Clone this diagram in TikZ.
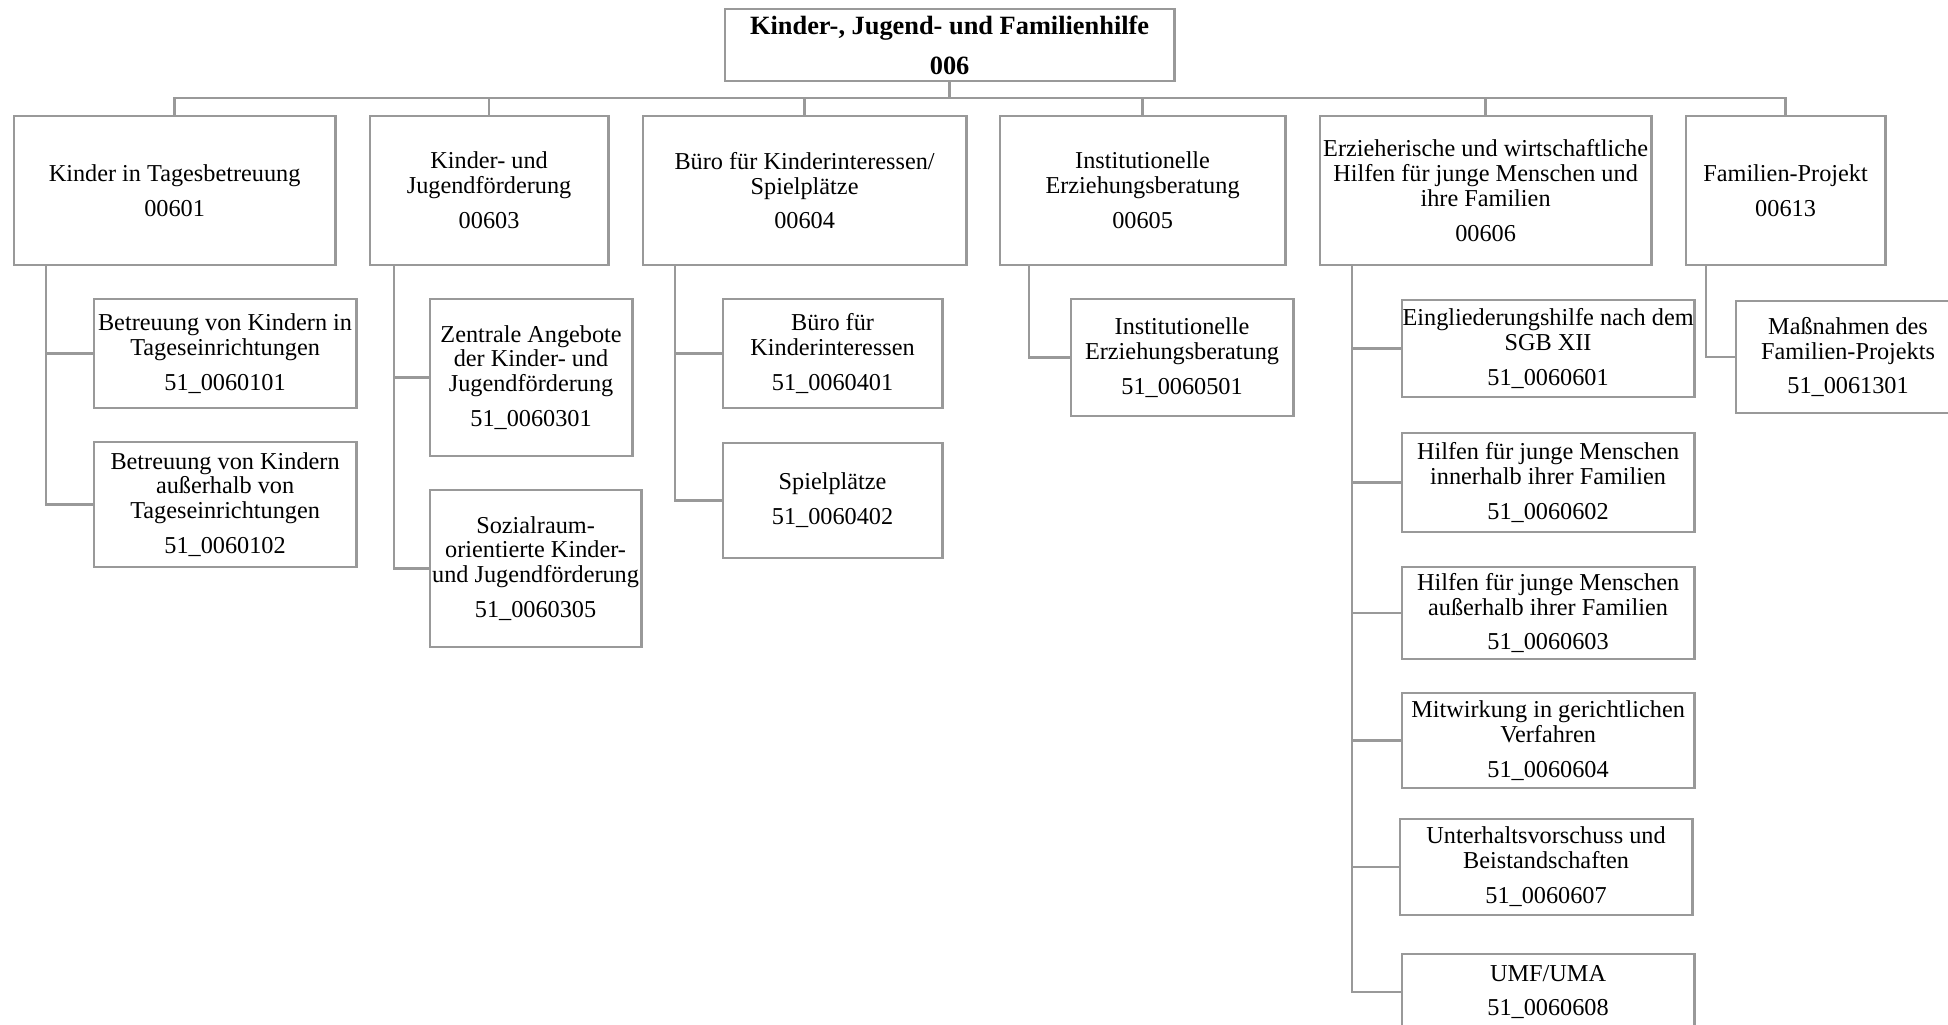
\documentclass[tikz,border=0pt]{standalone}
\usepackage{fontspec}
\setmainfont{Liberation Serif}
\usepackage{tikz}
\usetikzlibrary{positioning}
\definecolor{linegray}{RGB}{153,153,153}
\tikzset{
  base/.style = {draw=linegray, line width=0.8pt, align=center, inner sep=0pt,
                 outer sep=0pt, font=\fontsize{6.9}{7.1}\selectfont},
  head/.style = {base, font=\fontsize{7.5}{11.3}\selectfont\bfseries},
  unit/.style = {base, anchor=north west},
  conn/.style = {draw=linegray, line width=0.8pt},
}

\begin{document}
\begin{tikzpicture}[x=0.01cm, y=-0.01cm]
  \useasboundingbox (0,0) rectangle (1948,1025);
  \clip (0,0) rectangle (1948,1025);

  % Amt
  \node[head, anchor=north west, minimum width=4.49cm, minimum height=0.72cm] (amt) at (725,9)
       {Kinder-, Jugend- und Familienhilfe\\006};

  % Produktgruppen
  \node[unit, minimum width=3.21cm, minimum height=1.49cm] (tag) at (14,116)
       {Kinder in Tagesbetreuung\\[2.8pt]00601};
  \node[unit, minimum width=2.38cm, minimum height=1.49cm] (jug) at (370,116)
       {Kinder- und\\Jugendförderung\\[2.8pt]00603};
  \node[unit, minimum width=3.23cm, minimum height=1.49cm] (bki) at (643,116)
       {Büro für Kinderinteressen/\\Spielplätze\\[2.8pt]00604};
  \node[unit, minimum width=2.85cm, minimum height=1.49cm] (ieb) at (1000,116)
       {Institutionelle\\Erziehungsberatung\\[2.8pt]00605};
  \node[unit, minimum width=3.31cm, minimum height=1.49cm] (ewh) at (1320,116)
       {Erzieherische und wirtschaftliche\\Hilfen für junge Menschen und\\ihre Familien\\[2.8pt]00606};
  \node[unit, minimum width=1.99cm, minimum height=1.49cm] (fam) at (1686,116)
       {Familien-Projekt\\[2.8pt]00613};

  % Produkte
  \node[unit, minimum width=2.62cm, minimum height=1.09cm] (tag1) at (94,299)
       {Betreuung von Kindern in\\Tageseinrichtungen\\[2.8pt]51\_0060101};
  \node[unit, minimum width=2.62cm, minimum height=1.25cm] (tag2) at (94,442)
       {Betreuung von Kindern\\außerhalb von\\Tageseinrichtungen\\[2.8pt]51\_0060102};
  \node[unit, minimum width=2.02cm, minimum height=1.57cm] (jug1) at (430,299)
       {Zentrale Angebote\\der Kinder- und\\Jugendförderung\\[2.8pt]51\_0060301};
  \node[unit, minimum width=2.11cm, minimum height=1.57cm] (jug2) at (430,490)
       {Sozialraum-\\orientierte Kinder-\\und Jugendförderung\\[2.8pt]51\_0060305};
  \node[unit, minimum width=2.19cm, minimum height=1.09cm] (bki1) at (723,299)
       {Büro für\\Kinderinteressen\\[2.8pt]51\_0060401};
  \node[unit, minimum width=2.19cm, minimum height=1.15cm] (bki2) at (723,443)
       {Spielplätze\\[2.8pt]51\_0060402};
  \node[unit, minimum width=2.22cm, minimum height=1.17cm] (ieb1) at (1071,299)
       {Institutionelle\\Erziehungsberatung\\[2.8pt]51\_0060501};
  \node[unit, minimum width=2.92cm, minimum height=0.97cm] (ewh1) at (1402,300)
       {Eingliederungshilfe nach dem\\SGB XII\\[2.8pt]51\_0060601};
  \node[unit, minimum width=2.92cm, minimum height=0.99cm] (ewh2) at (1402,433)
       {Hilfen für junge Menschen\\innerhalb ihrer Familien\\[2.8pt]51\_0060602};
  \node[unit, minimum width=2.92cm, minimum height=0.92cm] (ewh3) at (1402,567)
       {Hilfen für junge Menschen\\außerhalb ihrer Familien\\[2.8pt]51\_0060603};
  \node[unit, minimum width=2.92cm, minimum height=0.95cm] (ewh4) at (1402,693)
       {Mitwirkung in gerichtlichen\\Verfahren\\[2.8pt]51\_0060604};
  \node[unit, minimum width=2.92cm, minimum height=0.96cm] (ewh5) at (1400,819)
       {Unterhaltsvorschuss und\\Beistandschaften\\[2.8pt]51\_0060607};
  \node[unit, minimum width=2.92cm, minimum height=0.76cm] (ewh6) at (1402,954)
       {UMF/UMA\\[2.8pt]51\_0060608};
  \node[unit, minimum width=2.24cm, minimum height=1.12cm] (fam1) at (1736,301)
       {Maßnahmen des\\Familien-Projekts\\[2.8pt]51\_0061301};

  % Verbindungen
  \foreach \p in {tag,jug,bki,ieb,ewh,fam}
    \draw[conn] (amt.south) -- ++(0,17) -| (\p.north);
  \foreach \c in {tag1,tag2} \draw[conn] (tag.south west) ++(32,0) |- (\c.west);
  \foreach \c in {jug1,jug2} \draw[conn] (jug.south west) ++(24,0) |- (\c.west);
  \foreach \c in {bki1,bki2} \draw[conn] (bki.south west) ++(32,0) |- (\c.west);
  \draw[conn] (ieb.south west) ++(29,0) |- (ieb1.west);
  \foreach \c in {ewh1,ewh2,ewh3,ewh4,ewh5,ewh6}
    \draw[conn] (ewh.south west) ++(32,0) |- (\c.west);
  \draw[conn] (fam.south west) ++(20,0) |- (fam1.west);
\end{tikzpicture}
\end{document}
